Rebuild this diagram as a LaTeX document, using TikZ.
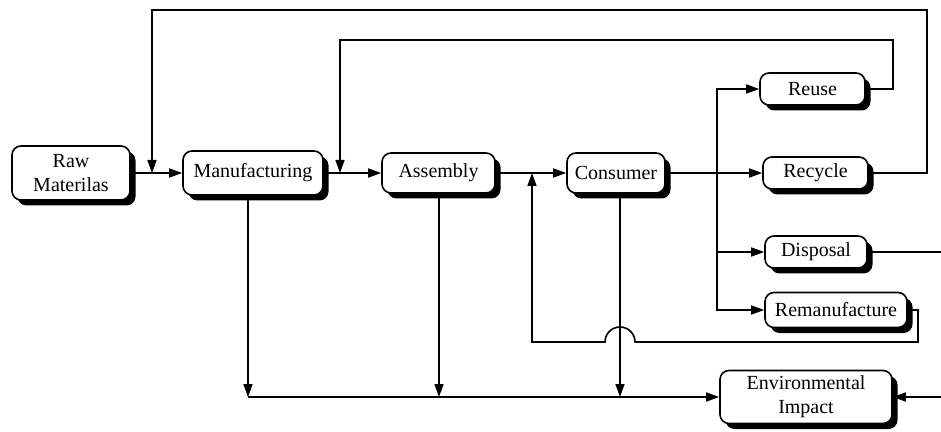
\documentclass[tikz,border=0pt]{standalone}
\usepackage{fontspec}
\setmainfont{Liberation Serif}
\usetikzlibrary{arrows.meta,shadows}
\begin{document}
\begin{tikzpicture}[x=1pt,y=1pt,
  line width=1.6pt,
  arr/.style={-{Triangle[length=13pt,width=9pt]}},
  stage/.style={draw, rounded corners=9pt, fill=white, inner sep=0pt,
    align=center, font=\fontsize{20}{24}\selectfont,
    drop shadow={shadow xshift=5.5pt, shadow yshift=-5.5pt, fill=black, opacity=1}}]
\useasboundingbox (0,0) rectangle (941,431);

% main production chain
\node[stage, minimum width=118pt, minimum height=54pt] (raw)  at (71,258)    {Raw\\Materilas};
\node[stage, minimum width=140pt, minimum height=44pt] (manu) at (253,258)   {Manufacturing};
\node[stage, minimum width=113pt, minimum height=40pt] (asm)  at (438.5,258) {Assembly};
\node[stage, minimum width=98pt,  minimum height=40pt] (cons) at (616,258)   {Consumer};

% end-of-life options
\node[stage, minimum width=105pt, minimum height=32pt] (reuse)   at (812.5,342) {Reuse};
\node[stage, minimum width=105pt, minimum height=32pt] (recycle) at (815.5,258) {Recycle};
\node[stage, minimum width=102pt, minimum height=32pt] (disp)    at (816,179)   {Disposal};
\node[stage, minimum width=142pt, minimum height=35pt] (reman)   at (836,121)   {Remanufacture};

\node[stage, minimum width=172pt, minimum height=53pt] (env) at (806,34) {Environmental\\Impact};

% helper coordinates
\coordinate (j1) at (152,258);
\coordinate (j2) at (340,258);
\coordinate (j3) at (532,258);
\coordinate (t1) at (927,421);
\coordinate (t2) at (893,391);
\coordinate (b)  at (717,258);
\coordinate (r1) at (918,89);
\coordinate (h1) at (635,89);
\coordinate (r2) at (532,89);
\coordinate (m1) at (248,34);
\coordinate (a1) at (439,34);
\coordinate (c1) at (620,34);
\coordinate (dend) at (941,179);
\coordinate (eend) at (941,34);

% forward flow
\draw[arr] (raw) -- (manu);
\draw[arr] (manu) -- (asm);
\draw[arr] (asm) -- (cons);
\draw[arr] (cons) -- (recycle);
\draw[arr] (b) |- (reuse.west);
\draw[arr] (b) |- (disp.west);
\draw[arr] (b) |- (reman.west);

% feedback loops
\draw[arr] (recycle.east) -| (t1) -| (j1);
\draw[arr] (reuse.east) -| (t2) -| (j2);
\draw[arr] (reman.east) -| (r1) -- (h1) arc[start angle=0, end angle=180, radius=15pt] -- (r2) -- (j3);
\draw (disp.east) -- (dend);

% environmental impact
\draw[arr] (manu.south -| m1) -- (m1);
\draw[arr] (asm.south -| a1) -- (a1);
\draw[arr] (cons.south -| c1) -- (c1);
\draw[arr] (m1) -- (env.west);
\draw[arr] (eend) -- (env.east);
\end{tikzpicture}
\end{document}
